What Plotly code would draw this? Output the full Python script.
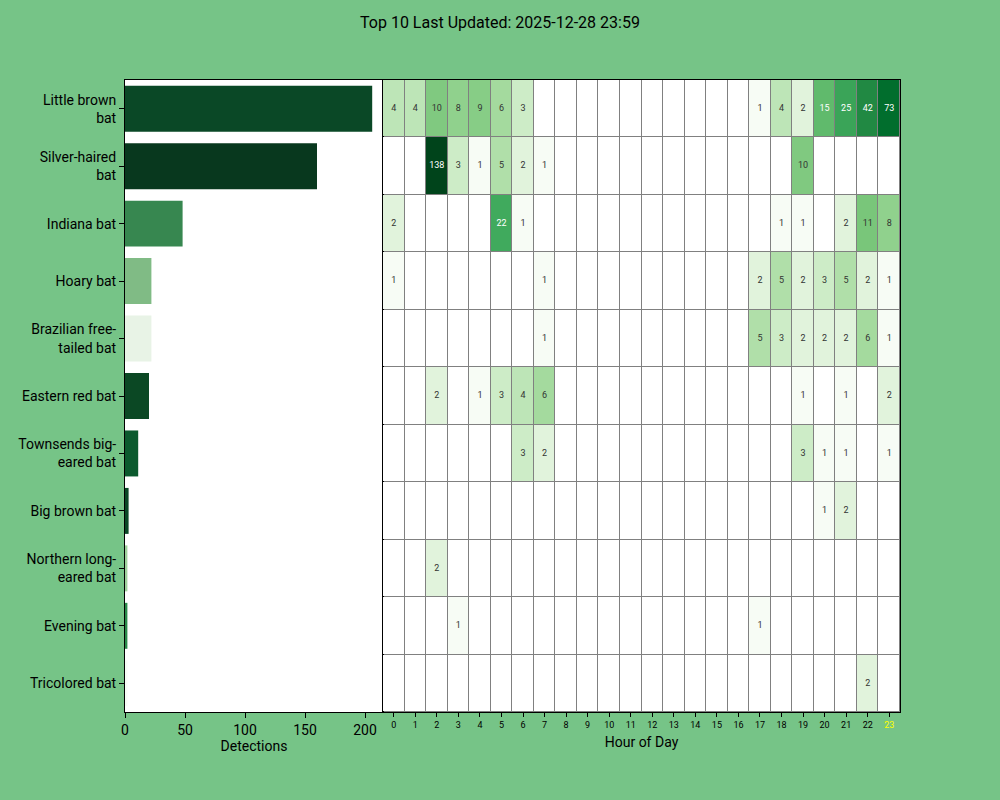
import plotly.graph_objects as go
import numpy as np

title_text = "Top 10 Last Updated: 2025-12-28 23:59"

species = ["Little brown bat", "Silver-haired bat", "Indiana bat", "Hoary bat",
           "Brazilian free-tailed bat", "Eastern red bat", "Townsends big-eared bat",
           "Big brown bat", "Northern long-eared bat", "Evening bat", "Tricolored bat"]
species_labels = ["Little brown<br>bat", "Silver-haired<br>bat", "Indiana bat", "Hoary bat",
                  "Brazilian free-<br>tailed bat", "Eastern red bat", "Townsends big-<br>eared bat",
                  "Big brown bat", "Northern long-<br>eared bat", "Evening bat", "Tricolored bat"]
hours = list(range(24))

#            0  1  2   3  4  5   6  7  8  9 10 11 12 13 14 15 16 17 18 19  20  21  22  23
little_brown = [4, 4, 10, 8, 9, 6, 3, 0, 0, 0, 0, 0, 0, 0, 0, 0, 0, 1, 4, 2, 15, 25, 42, 73]
silver_haired = [0, 0, 138, 3, 1, 5, 2, 1, 0, 0, 0, 0, 0, 0, 0, 0, 0, 0, 0, 10, 0, 0, 0, 0]
indiana = [2, 0, 0, 0, 0, 22, 1, 0, 0, 0, 0, 0, 0, 0, 0, 0, 0, 0, 1, 1, 0, 2, 11, 8]
hoary = [1, 0, 0, 0, 0, 0, 0, 1, 0, 0, 0, 0, 0, 0, 0, 0, 0, 2, 5, 2, 3, 5, 2, 1]
brazilian = [0, 0, 0, 0, 0, 0, 0, 1, 0, 0, 0, 0, 0, 0, 0, 0, 0, 5, 3, 2, 2, 2, 6, 1]
eastern_red = [0, 0, 2, 0, 1, 3, 4, 6, 0, 0, 0, 0, 0, 0, 0, 0, 0, 0, 0, 1, 0, 1, 0, 2]
townsends = [0, 0, 0, 0, 0, 0, 3, 2, 0, 0, 0, 0, 0, 0, 0, 0, 0, 0, 0, 3, 1, 1, 0, 1]
big_brown = [0, 0, 0, 0, 0, 0, 0, 0, 0, 0, 0, 0, 0, 0, 0, 0, 0, 0, 0, 0, 1, 2, 0, 0]
northern = [0, 0, 2, 0, 0, 0, 0, 0, 0, 0, 0, 0, 0, 0, 0, 0, 0, 0, 0, 0, 0, 0, 0, 0]
evening = [0, 0, 0, 1, 0, 0, 0, 0, 0, 0, 0, 0, 0, 0, 0, 0, 0, 1, 0, 0, 0, 0, 0, 0]
tricolored = [0, 0, 0, 0, 0, 0, 0, 0, 0, 0, 0, 0, 0, 0, 0, 0, 0, 0, 0, 0, 0, 0, 2, 0]

hourly = [little_brown, silver_haired, indiana, hoary, brazilian, eastern_red,
          townsends, big_brown, northern, evening, tricolored]
totals = [sum(r) for r in hourly]

bar_colors = ["#0a4826", "#08381e", "#378750", "#80bb85", "#e8f3e6", "#0b4824",
              "#0b5a2e", "#0a4826", "#9fd09c", "#2a8a4a", "#f7fcf5"]

greens = [[0.0, "#f7fcf5"], [0.125, "#e5f5e0"], [0.25, "#c7e9c0"], [0.375, "#a1d99b"],
          [0.5, "#74c476"], [0.625, "#41ab5d"], [0.75, "#238b45"], [0.875, "#006d2c"],
          [1.0, "#00441b"]]

bg = "#76c487"
grid_color = "#808080"
font = "Roboto"

counts = np.array(hourly, dtype=float)
maxc = counts.max()
zlog = np.where(counts > 0, np.log(np.where(counts > 0, counts, 1)) / np.log(maxc), np.nan)

n_rows = len(species)

fig = go.Figure()

fig.add_trace(go.Bar(
    x=totals, y=species, orientation="h", marker=dict(color=bar_colors, line=dict(width=0)),
    width=0.8, xaxis="x", yaxis="y", showlegend=False, hoverinfo="x+y"))

# white background cells (grid)
fig.add_trace(go.Heatmap(
    z=np.zeros_like(counts), x=hours, y=species, colorscale=[[0, "white"], [1, "white"]],
    showscale=False, xgap=1, ygap=1, xaxis="x2", yaxis="y2", hoverinfo="skip"))

fig.add_trace(go.Heatmap(
    z=zlog, x=hours, y=species, colorscale=greens, zmin=0, zmax=1,
    showscale=False, xgap=1, ygap=1, xaxis="x2", yaxis="y2",
    customdata=counts, hovertemplate="%{y}<br>%{x}h: %{customdata}<extra></extra>"))

tx, ty, tt, tc = [], [], [], []
for i, sp in enumerate(species):
    for h in hours:
        c = hourly[i][h]
        if c > 0:
            tx.append(h)
            ty.append(sp)
            tt.append(str(c))
            tc.append("white" if np.log(c) / np.log(maxc) > 0.5 else "#333333")

fig.add_trace(go.Scatter(
    x=tx, y=ty, text=tt, mode="text", textfont=dict(color=tc, size=9, family=font),
    xaxis="x2", yaxis="y2", showlegend=False, hoverinfo="skip"))

hour_ticktext = [str(h) for h in hours]
hour_ticktext[-1] = '<span style="color:yellow">23</span>'

fig.add_shape(type="rect", xref="x2 domain", yref="y2 domain", x0=0, x1=1, y0=0, y1=1,
              fillcolor=grid_color, line=dict(width=0), layer="below")

fig.update_layout(
    width=1000, height=800,
    paper_bgcolor=bg, plot_bgcolor="white",
    margin=dict(l=0, r=0, t=0, b=0),
    font=dict(family=font, color="black", size=14),
    title=dict(text=title_text, x=0.5, xanchor="center", y=1 - 22 / 800, yanchor="middle",
               font=dict(size=16, family=font, color="black")),
    showlegend=False,
    xaxis=dict(domain=[0.125, 0.383], range=[0, 215], tickvals=[0, 50, 100, 150, 200],
               showgrid=False, zeroline=False, showline=True, linecolor="black", linewidth=1,
               mirror=True, ticks="outside", ticklen=5, tickcolor="black", automargin=False,
               title=dict(text="Detections", standoff=4, font=dict(size=14)),
               tickfont=dict(size=14)),
    yaxis=dict(domain=[0.11, 0.9], categoryorder="array", categoryarray=species,
               range=[n_rows - 0.5, -0.5], tickvals=species, ticktext=species_labels,
               showgrid=False, zeroline=False, showline=True, linecolor="black", linewidth=1,
               mirror=True, ticks="outside", ticklen=5, tickcolor="black", automargin=False,
               tickfont=dict(size=14)),
    xaxis2=dict(domain=[0.383, 0.9], range=[-0.5, 23.5], tickvals=hours, ticktext=hour_ticktext,
                showgrid=False, zeroline=False, showline=True, linecolor="black", linewidth=1,
                mirror=True, ticks="outside", ticklen=4, tickcolor="black", automargin=False,
                anchor="y2", tickfont=dict(size=9),
                title=dict(text="Hour of Day", standoff=8, font=dict(size=14))),
    yaxis2=dict(domain=[0.11, 0.9], categoryorder="array", categoryarray=species,
                range=[n_rows - 0.5, -0.5], showticklabels=False, showgrid=False, zeroline=False,
                showline=True, linecolor="black", linewidth=1, mirror=True, anchor="x2",
                ticks="", automargin=False),
)

fig.write_html("out.html", config={"displayModeBar": False},
               post_script="document.body.style.margin='0';document.body.style.padding='0';")
